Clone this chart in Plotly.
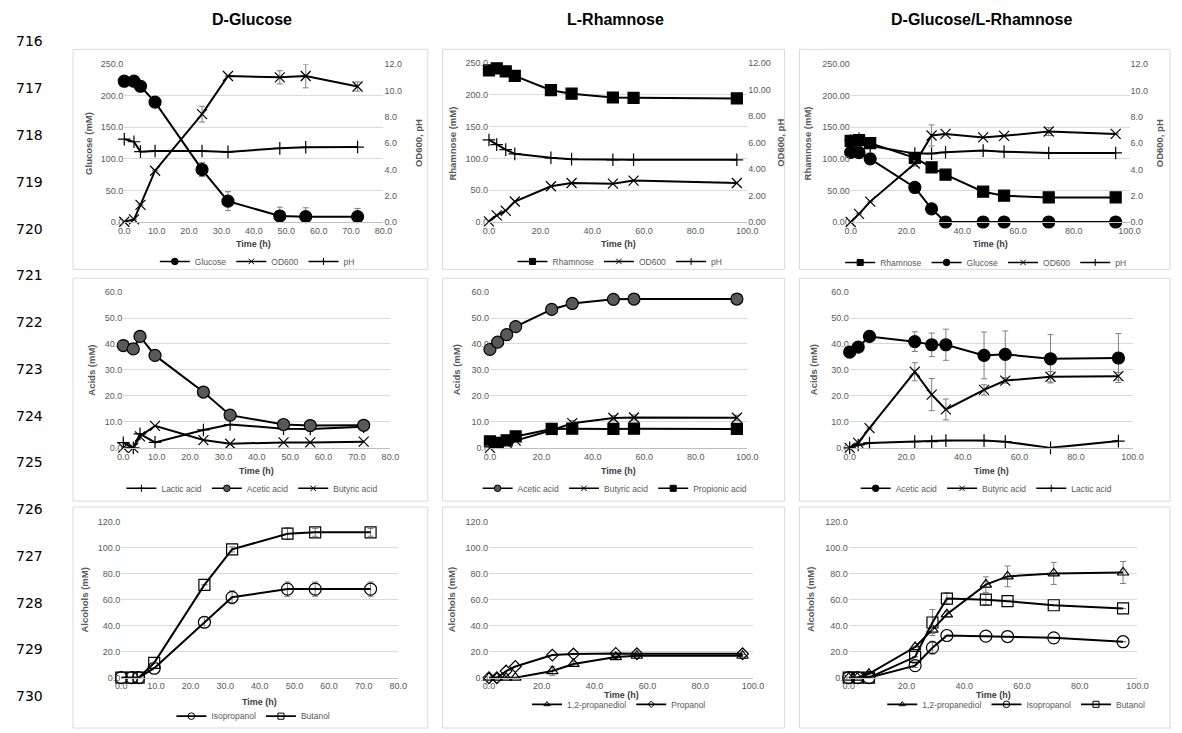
import plotly.graph_objects as go

W, H = 1182, 733

# ---------------- DATA ----------------
# Column 1: D-Glucose
t1 = [0, 3, 5, 9.5, 24, 32, 48, 56, 72]
glc1 = [223, 223, 215, 190, 83, 33, 9.5, 8.5, 8.5]
glc1_err = [0, 0, 0, 0, 11, 15, 14, 14, 13]
od1 = [0.02, 0.2, 1.3, 3.9, 8.2, 11.1, 11.0, 11.1, 10.3]
od1_err = [0, 0, 0, 0, 0.6, 0, 0.5, 0.9, 0.35]
ph1 = [6.3, 6.1, 5.35, 5.4, 5.4, 5.33, 5.6, 5.68, 5.7]
lac1 = [2.0, 0.0, 5.4, 2.1, 6.9, 9.0, 7.4, 7.3, 8.1]
ace1 = [39.4, 38.1, 42.9, 35.6, 21.5, 12.6, 9.0, 8.6, 8.7]
but1 = [0.1, 0.0, 4.4, 8.5, 3.0, 1.6, 2.1, 2.1, 2.4]
iso1 = [0, 0, 0, 7.3, 42.7, 61.9, 68.2, 68.2, 68.2]
iso1_err = [0, 0, 0, 0, 4, 5, 5.5, 5.5, 5.5]
buoh1 = [0, 0, 0, 11.4, 71.5, 98.8, 110.9, 111.9, 111.9]
buoh1_err = [0, 0, 0, 0, 0, 2, 4.5, 3, 3]

# Column 2: L-Rhamnose
t2 = [0, 3, 6.5, 10, 24, 32, 48, 56, 96]
rha2 = [238.6, 242, 237, 230, 207.5, 202, 196, 195.5, 194.5]
od2 = [0.05, 0.5, 0.85, 1.55, 2.7, 2.95, 2.9, 3.13, 2.95]
ph2 = [6.2, 5.85, 5.47, 5.15, 4.85, 4.75, 4.7, 4.7, 4.7]
ace2 = [37.9, 40.7, 43.6, 46.7, 53.3, 55.6, 57.2, 57.3, 57.3]
but2 = [0.0, 1.5, 1.9, 2.8, 6.8, 9.5, 11.5, 11.7, 11.6]
but2_err = [0, 0, 0, 0, 0.8, 1, 1, 1, 1]
pro2 = [2.5, 1.9, 2.9, 4.4, 7.3, 7.4, 7.3, 7.4, 7.3]
pdo2 = [0, 0, 0, 0, 5.1, 10.6, 15.9, 16.9, 16.9]
pdo2_err = [0, 0, 0, 0, 3.5, 2, 1, 1, 1]
prop2 = [0, 0, 5.1, 8.6, 17.4, 18.2, 18.7, 18.4, 18.4]

# Column 3: D-Glucose/L-Rhamnose
t3 = [0, 3, 7, 23, 29, 34, 47.5, 55, 71, 95]
rha3 = [128.6, 129.7, 125, 101.6, 86.5, 75, 48, 41.7, 39, 39]
glc3 = [110.4, 110, 100, 54.7, 20.8, 0, 0, 0, 0, 0]
od3 = [0.0, 0.62, 1.55, 4.45, 6.58, 6.7, 6.43, 6.55, 6.88, 6.7]
od3_err = [0, 0, 0, 0.2, 0.8, 0, 0, 0, 0.3, 0]
ph3 = [6.2, 6.33, 5.8, 5.2, 5.2, 5.3, 5.43, 5.35, 5.25, 5.25]
ace3 = [36.9, 38.8, 42.9, 40.9, 39.7, 39.7, 35.6, 36.0, 34.3, 34.6]
ace3_err = [0, 0, 0, 3.8, 4.5, 6, 9, 9, 9.3, 9.4]
but3 = [0.0, 1.9, 7.6, 29.3, 20.5, 14.8, 22.3, 25.9, 27.4, 27.6]
but3_err = [0, 0, 0, 3.5, 6.2, 4, 2, 1, 2, 1.5]
lac3 = [0.0, 1.1, 1.9, 2.4, 2.4, 2.8, 2.8, 2.4, 0.0, 2.6]
pdo3 = [0, 0, 3, 23.6, 37, 48.8, 71.7, 78, 80.3, 81]
pdo3_err = [0, 0, 0, 0, 3, 2, 6, 8, 8.5, 8.5]
iso3 = [0, 0, 0, 9.3, 23.1, 32.5, 32, 31.7, 30.7, 27.7]
iso3_err = [0, 0, 0, 1.5, 5, 0, 0, 0, 0, 0]
buoh3 = [0, 0, 0, 16.1, 42.5, 60.9, 60.1, 58.9, 55.8, 53.3]
buoh3_err = [0, 0, 0, 0, 10, 4.5, 4, 0, 0, 0]

col_titles = ["D-Glucose", "L-Rhamnose", "D-Glucose/L-Rhamnose"]
line_numbers = list(range(716, 731))

# ---------------- LAYOUT HELPERS ----------------
def px(x):
    return x / W

def py(y):
    return 1 - y / H

FONT = "Liberation Sans, Arial, sans-serif"
TICK = dict(family=FONT, size=9, color="#595959")

# plot-area pixel boxes [x0, x1, ytop, ybottom]
boxes = {
    1: (120, 383, 60, 220), 2: (490, 752, 59, 220), 3: (857, 1140, 60, 220),
    4: (119, 390, 291, 449), 5: (491, 752, 291, 449), 6: (856, 1143, 291, 449),
    7: (117, 398, 524, 682), 8: (490, 758, 524, 682), 9: (855, 1148, 524, 682),
}
xranges = {1: 80, 2: 100, 3: 100, 4: 80, 5: 100, 6: 100, 7: 80, 8: 100, 9: 100}
yranges = {1: (250, 50, ".1f"), 2: (250, 50, ".1f"), 3: (250, 50, ".2f"),
           4: (60, 10, ".1f"), 5: (60, 10, ".1f"), 6: (60, 10, ".1f"),
           7: (120, 20, ".1f"), 8: (120, 20, ".1f"), 9: (120, 20, ".1f")}
y2fmt = {1: ".1f", 2: ".2f", 3: ".1f"}

fig = go.Figure()
layout = dict(width=W, height=H, margin=dict(l=0, r=0, t=0, b=0),
              paper_bgcolor="white", plot_bgcolor="white", showlegend=True)

for k, (x0, x1, yt, yb) in boxes.items():
    xs = "" if k == 1 else str(k)
    xmax = xranges[k]
    layout["xaxis" + xs] = dict(
        domain=[px(x0), px(x1)], anchor="y" + xs, range=[0, xmax],
        dtick=10 if xmax == 80 else 20, tickformat=".1f", tickfont=TICK,
        showgrid=False, zeroline=False, showline=True, linecolor="#bfbfbf",
        linewidth=1, ticks="", fixedrange=True)
    ymax, dy, fmt = yranges[k]
    layout["yaxis" + xs] = dict(
        domain=[py(yb), py(yt)], anchor="x" + xs, range=[0, ymax], dtick=dy,
        tickformat=fmt, tickfont=TICK, showgrid=True, gridcolor="#d9d9d9",
        gridwidth=1, zeroline=False, showline=False, ticks="", fixedrange=True)

# secondary y axes for the top row
for k, sec in [(1, 10), (2, 11), (3, 12)]:
    xs = "" if k == 1 else str(k)
    layout["yaxis" + str(sec)] = dict(
        overlaying="y" + xs, anchor="x" + xs, side="right", range=[0, 12],
        dtick=2, tickformat=y2fmt[k], tickfont=TICK, showgrid=False,
        zeroline=False, showline=False, ticks="", fixedrange=True)

# legends
leg_pos = {1: (255, 260), 2: (623, 260), 3: (994, 261),
           4: (250, 490), 5: (618, 490), 6: (995, 490),
           7: (251, 721), 8: (622, 709), 9: (1025, 709)}
for k, (lx, ly) in leg_pos.items():
    name = "legend" if k == 1 else "legend" + str(k)
    layout[name] = dict(orientation="h", x=px(lx), y=py(ly), xanchor="center",
                        yanchor="middle", font=dict(family=FONT, size=8.5, color="#595959"),
                        bgcolor="rgba(0,0,0,0)", itemwidth=30, tracegroupgap=0,
                        traceorder="normal", itemclick=False, itemdoubleclick=False)

fig.update_layout(**layout)


def add(k, x, y, name, symbol, size=9, fill="black", err=None, yaxis=None,
        lw=1.2):
    xs = "" if k == 1 else str(k)
    ya = yaxis if yaxis else "y" + xs
    leg = "legend" if k == 1 else "legend" + str(k)
    mk = dict(symbol=symbol, size=size, color=fill,
              line=dict(color="black", width=lw))
    tr = go.Scatter(
        x=x, y=y, name=name, mode="lines+markers",
        line=dict(color="black", width=2), marker=mk,
        xaxis="x" + xs, yaxis=ya, showlegend=False,
        cliponaxis=False, hoverinfo="x+y+name")
    if err is not None:
        tr.error_y = dict(type="data", array=err, visible=True, color="#7f7f7f",
                          thickness=1, width=3)
    fig.add_trace(tr)
    # small legend swatch (legend-only proxy)
    fig.add_trace(go.Scatter(
        x=[None], y=[None], name=name, mode="lines+markers",
        line=dict(color="black", width=1.6),
        marker=dict(symbol=symbol, size=max(5, size * 0.55), color=fill,
                    line=dict(color="black", width=1)),
        xaxis="x" + xs, yaxis=ya, legend=leg, showlegend=True, hoverinfo="skip"))

# Row 1
add(1, t1, glc1, "Glucose", "circle", 12, err=glc1_err)
add(1, t1, od1, "OD600", "x-thin", 10, err=od1_err, yaxis="y10")
add(1, t1, ph1, "pH", "cross-thin", 9, yaxis="y10")

add(2, t2, rha2, "Rhamnose", "square", 11)
add(2, t2, od2, "OD600", "x-thin", 10, yaxis="y11")
add(2, t2, ph2, "pH", "cross-thin", 9, yaxis="y11")

add(3, t3, rha3, "Rhamnose", "square", 11)
add(3, t3, glc3, "Glucose", "circle", 12)
add(3, t3, od3, "OD600", "x-thin", 10, err=od3_err, yaxis="y12")
add(3, t3, ph3, "pH", "cross-thin", 9, yaxis="y12")

# Row 2
add(4, t1, lac1, "Lactic acid", "cross-thin", 9)
add(4, t1, ace1, "Acetic acid", "circle", 12, fill="#595959")
add(4, t1, but1, "Butyric acid", "x-thin", 10)

add(5, t2, ace2, "Acetic acid", "circle", 12, fill="#595959")
add(5, t2, but2, "Butyric acid", "x-thin", 10, err=but2_err)
add(5, t2, pro2, "Propionic acid", "square", 11)

add(6, t3, ace3, "Acetic acid", "circle", 12, err=ace3_err)
add(6, t3, but3, "Butyric acid", "x-thin", 10, err=but3_err)
add(6, t3, lac3, "Lactic acid", "cross-thin", 9)

# Row 3
add(7, t1, iso1, "Isopropanol", "circle-open", 12, err=iso1_err)
add(7, t1, buoh1, "Butanol", "square-open", 11, err=buoh1_err)

add(8, t2, pdo2, "1,2-propanediol", "triangle-up-open", 10, err=pdo2_err)
add(8, t2, prop2, "Propanol", "diamond-open", 9)

add(9, t3, pdo3, "1,2-propanediol", "triangle-up-open", 10, err=pdo3_err)
add(9, t3, iso3, "Isopropanol", "circle-open", 12, err=iso3_err)
add(9, t3, buoh3, "Butanol", "square-open", 11, err=buoh3_err)

# ---------------- ANNOTATIONS ----------------
ann = []
# column titles
for cx, txt in zip([250, 618, 990], col_titles):
    ann.append(dict(x=px(cx), y=py(15), xref="paper", yref="paper", text="<b>%s</b>" % txt,
                    showarrow=False, font=dict(family=FONT, size=16, color="black"),
                    xanchor="center", yanchor="middle"))
# line numbers
for i, n in enumerate(line_numbers):
    ann.append(dict(x=px(24), y=py(37 + i * 47.4), xref="paper", yref="paper", text=str(n),
                    showarrow=False, font=dict(family="DejaVu Sans", size=14, color="black"),
                    xanchor="center", yanchor="middle"))
# y-axis titles
ytitles = {1: "Glucose (mM)", 2: "Rhamnose (mM)", 3: "Rhamnose (mM)",
           4: "Acids (mM)", 5: "Acids (mM)", 6: "Acids (mM)",
           7: "Alcohols (mM)", 8: "Alcohols (mM)", 9: "Alcohols (mM)"}
ytx = {1: 83, 2: 453, 3: 813, 4: 87, 5: 458, 6: 820, 7: 80, 8: 452, 9: 817}
yty = {1: 140, 2: 140, 3: 140, 4: 370, 5: 370, 6: 370, 7: 603, 8: 603, 9: 603}
for k in ytitles:
    ann.append(dict(x=px(ytx[k]), y=py(yty[k]), xref="paper", yref="paper",
                    text="<b>%s</b>" % ytitles[k], textangle=-90, showarrow=False,
                    font=dict(family=FONT, size=9.5, color="#595959"),
                    xanchor="center", yanchor="middle"))
for cx in [418, 785, 1170]:
    ann.append(dict(x=px(cx), y=py(140), xref="paper", yref="paper",
                    text="<b>OD600, pH</b>", textangle=-90, showarrow=False,
                    font=dict(family=FONT, size=9.5, color="#595959"),
                    xanchor="center", yanchor="middle"))
# x-axis titles
xtitle_pos = {1: 242, 2: 242, 3: 242, 4: 472, 5: 472, 6: 472, 7: 707, 8: 700, 9: 700}
for k, (x0, x1, yt, yb) in boxes.items():
    ann.append(dict(x=px((x0 + x1) / 2), y=py(xtitle_pos[k]), xref="paper", yref="paper",
                    text="<b>Time (h)</b>", showarrow=False,
                    font=dict(family=FONT, size=9, color="#404040"),
                    xanchor="center", yanchor="middle"))

# panel boxes
shapes = []
colx = [(68, 428), (443, 790), (805, 1181)]
rowy = [(45, 268), (277, 503), (509, 733)]
for (a, b) in colx:
    for (c, d) in rowy:
        shapes.append(dict(type="rect", xref="paper", yref="paper", x0=px(a), x1=px(b),
                           y0=py(d), y1=py(c), line=dict(color="#d9d9d9", width=1),
                           fillcolor="rgba(0,0,0,0)", layer="below"))

fig.update_layout(annotations=ann, shapes=shapes)
fig.write_html("out.html", config={"displayModeBar": False},
               post_script="document.body.style.margin='0px';document.body.style.overflow='hidden';")
